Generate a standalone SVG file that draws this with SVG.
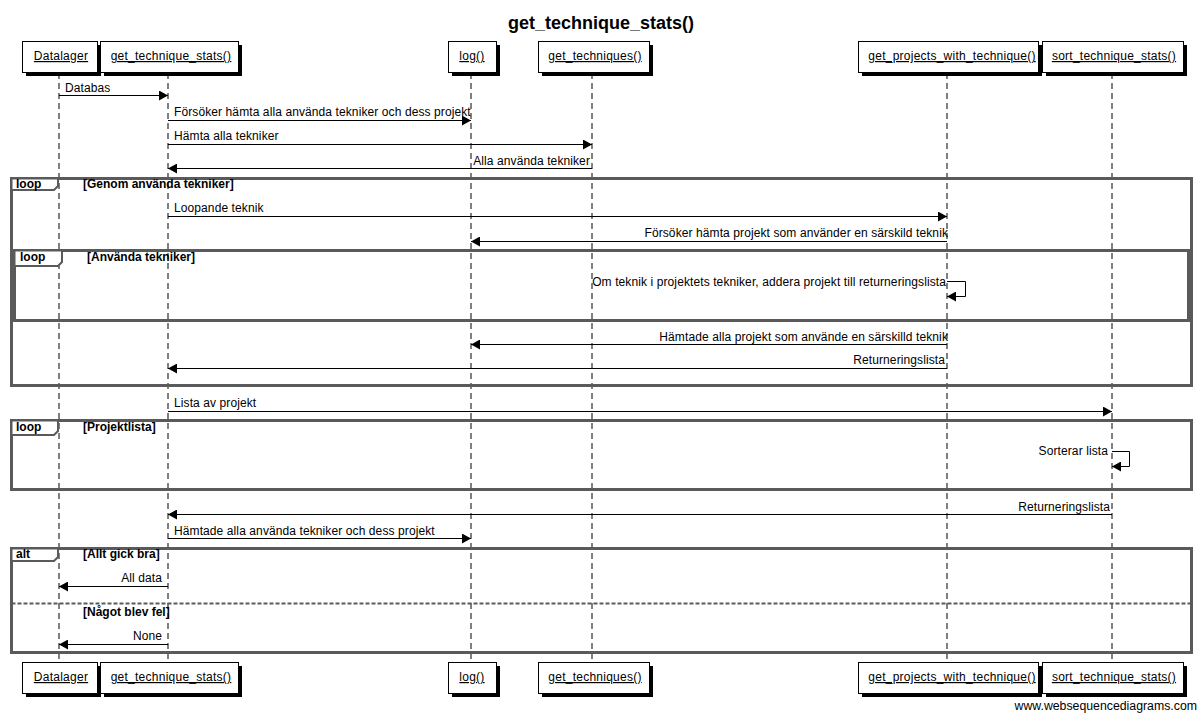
<svg xmlns="http://www.w3.org/2000/svg" width="1201" height="713" viewBox="0 0 1201 713">
  <style>
    text { font-family: "Liberation Sans", Arial, sans-serif; fill: #000; }
    .title { font-size: 18px; font-weight: bold; }
    .pname { font-size: 12px; letter-spacing: 0.25px; text-decoration: underline; }
    .msg { font-size: 12px; letter-spacing: 0.1px; }
    .flab { font-size: 12px; font-weight: bold; }
    .foot { font-size: 12.3px; }
    .box { fill: #fff; stroke: #000; stroke-width: 1; }
    .shadow { fill: #000; }
    .life { stroke: #000; stroke-width: 1; stroke-dasharray: 6 4; fill: none; }
    .arrow { stroke: #000; stroke-width: 1; fill: none; marker-end: url(#head); }
    .frame { fill: none; stroke: #5a5a5a; stroke-width: 3; }
    .tab { fill: #fff; stroke: #5a5a5a; stroke-width: 2; }
    .divider { stroke: #5a5a5a; stroke-width: 2; stroke-dasharray: 4 2; }
  </style>
  <defs>
    <marker id="head" markerWidth="9" markerHeight="10" refX="9" refY="5" orient="auto" markerUnits="userSpaceOnUse">
      <path d="M0,0 L9,5 L0,10 Z" fill="#000"/>
    </marker>
  </defs>

  <rect width="1201" height="713" fill="#fff"/>
  <text class="title" x="601" y="29" text-anchor="middle">get_technique_stats()</text>

  <!-- lifelines -->
  <g id="lifelines">
    <line class="life" x1="59" y1="73" x2="59" y2="662"/>
    <line class="life" x1="168" y1="73" x2="168" y2="662"/>
    <line class="life" x1="471" y1="73" x2="471" y2="662"/>
    <line class="life" x1="592" y1="73" x2="592" y2="662"/>
    <line class="life" x1="947" y1="73" x2="947" y2="662"/>
    <line class="life" x1="1112" y1="73" x2="1112" y2="662"/>
  </g>

  <!-- combined fragments -->
  <g id="frames">
    <rect class="frame" x="11.5" y="178.5" width="1180" height="207"/>
    <path class="tab" d="M11.5,178.5 H58 V186 L54,190 H11.5 Z"/>
    <text class="flab" x="16" y="188">loop</text>
    <text class="flab" x="83" y="188">[Genom använda tekniker]</text>

    <rect class="frame" x="14.5" y="250.5" width="1174" height="70"/>
    <path class="tab" d="M14.5,250.5 H62 V262 L58,266 H14.5 Z"/>
    <text class="flab" x="20" y="261">loop</text>
    <text class="flab" x="87" y="261">[Använda tekniker]</text>

    <rect class="frame" x="11.5" y="420.5" width="1180" height="69"/>
    <path class="tab" d="M11.5,420.5 H58 V431 L54,435 H11.5 Z"/>
    <text class="flab" x="16" y="431">loop</text>
    <text class="flab" x="83" y="431">[Projektlista]</text>

    <rect class="frame" x="11.5" y="548.5" width="1180" height="104"/>
    <path class="tab" d="M11.5,548.5 H58 V557 L54,561 H11.5 Z"/>
    <text class="flab" x="16" y="558">alt</text>
    <text class="flab" x="83" y="558">[Allt gick bra]</text>
    <line class="divider" x1="11.5" y1="603.5" x2="1191.5" y2="603.5"/>
    <text class="flab" x="83" y="616">[Något blev fel]</text>
  </g>

  <!-- messages -->
  <g id="connectors">
    <line class="arrow" x1="59" y1="95.5" x2="168" y2="95.5"/>
    <text class="msg" x="65" y="92">Databas</text>

    <line class="arrow" x1="168" y1="120.5" x2="471" y2="120.5"/>
    <text class="msg" x="174" y="116">Försöker hämta alla använda tekniker och dess projekt</text>

    <line class="arrow" x1="168" y1="144.5" x2="592" y2="144.5"/>
    <text class="msg" x="174" y="140">Hämta alla tekniker</text>

    <line class="arrow" x1="592" y1="168.5" x2="168" y2="168.5"/>
    <text class="msg" x="590" y="165" text-anchor="end">Alla använda tekniker</text>

    <line class="arrow" x1="168" y1="216.5" x2="947" y2="216.5"/>
    <text class="msg" x="174" y="212">Loopande teknik</text>

    <line class="arrow" x1="947" y1="241.5" x2="471" y2="241.5"/>
    <text class="msg" x="948" y="237" text-anchor="end">Försöker hämta projekt som använder en särskild teknik</text>

    <path class="arrow" d="M947,281.5 H965.5 V296.5 H947"/>
    <text class="msg" x="946" y="286" text-anchor="end">Om teknik i projektets tekniker, addera projekt till returneringslista</text>

    <line class="arrow" x1="947" y1="344.5" x2="471" y2="344.5"/>
    <text class="msg" x="948" y="341" text-anchor="end">Hämtade alla projekt som använde en särskilld teknik</text>

    <line class="arrow" x1="947" y1="368.5" x2="168" y2="368.5"/>
    <text class="msg" x="945" y="364" text-anchor="end">Returneringslista</text>

    <line class="arrow" x1="168" y1="411.5" x2="1112" y2="411.5"/>
    <text class="msg" x="174" y="407">Lista av projekt</text>

    <path class="arrow" d="M1112,451.5 H1129.5 V466.5 H1112"/>
    <text class="msg" x="1108" y="455" text-anchor="end">Sorterar lista</text>

    <line class="arrow" x1="1112" y1="514.5" x2="168" y2="514.5"/>
    <text class="msg" x="1110" y="511" text-anchor="end">Returneringslista</text>

    <line class="arrow" x1="168" y1="538.5" x2="471" y2="538.5"/>
    <text class="msg" x="174" y="535">Hämtade alla använda tekniker och dess projekt</text>

    <line class="arrow" x1="168" y1="586.5" x2="59" y2="586.5"/>
    <text class="msg" x="162" y="582" text-anchor="end">All data</text>

    <line class="arrow" x1="168" y1="644.5" x2="59" y2="644.5"/>
    <text class="msg" x="162" y="640" text-anchor="end">None</text>
  </g>

  <!-- participants, top -->
  <g id="p-datalager-top">
    <rect class="shadow" x="26" y="45" width="75" height="31"/>
    <rect class="box" x="22.5" y="41.5" width="75" height="31"/>
    <text class="pname" x="61" y="60" text-anchor="middle">Datalager</text>
  </g>
  <g id="p-stats-top">
    <rect class="shadow" x="104" y="45" width="138" height="31"/>
    <rect class="box" x="100.5" y="41.5" width="138" height="31"/>
    <text class="pname" x="171" y="60" text-anchor="middle">get_technique_stats()</text>
  </g>
  <g id="p-log-top">
    <rect class="shadow" x="452" y="45" width="48" height="31"/>
    <rect class="box" x="448.5" y="41.5" width="48" height="31"/>
    <text class="pname" x="472" y="60" text-anchor="middle">log()</text>
  </g>
  <g id="p-techniques-top">
    <rect class="shadow" x="542" y="45" width="111" height="31"/>
    <rect class="box" x="538.5" y="41.5" width="111" height="31"/>
    <text class="pname" x="595" y="60" text-anchor="middle">get_techniques()</text>
  </g>
  <g id="p-projects-top">
    <rect class="shadow" x="862" y="45" width="180" height="31"/>
    <rect class="box" x="858.5" y="41.5" width="180" height="31"/>
    <text class="pname" x="952" y="60" text-anchor="middle">get_projects_with_technique()</text>
  </g>
  <g id="p-sort-top">
    <rect class="shadow" x="1046" y="45" width="141" height="31"/>
    <rect class="box" x="1042.5" y="41.5" width="141" height="31"/>
    <text class="pname" x="1114" y="60" text-anchor="middle">sort_technique_stats()</text>
  </g>

  <!-- participants, bottom -->
  <g id="p-datalager-bottom">
    <rect class="shadow" x="26" y="666" width="75" height="31"/>
    <rect class="box" x="22.5" y="662.5" width="75" height="31"/>
    <text class="pname" x="61" y="681" text-anchor="middle">Datalager</text>
  </g>
  <g id="p-stats-bottom">
    <rect class="shadow" x="104" y="666" width="138" height="31"/>
    <rect class="box" x="100.5" y="662.5" width="138" height="31"/>
    <text class="pname" x="171" y="681" text-anchor="middle">get_technique_stats()</text>
  </g>
  <g id="p-log-bottom">
    <rect class="shadow" x="452" y="666" width="48" height="31"/>
    <rect class="box" x="448.5" y="662.5" width="48" height="31"/>
    <text class="pname" x="472" y="681" text-anchor="middle">log()</text>
  </g>
  <g id="p-techniques-bottom">
    <rect class="shadow" x="542" y="666" width="111" height="31"/>
    <rect class="box" x="538.5" y="662.5" width="111" height="31"/>
    <text class="pname" x="595" y="681" text-anchor="middle">get_techniques()</text>
  </g>
  <g id="p-projects-bottom">
    <rect class="shadow" x="862" y="666" width="180" height="31"/>
    <rect class="box" x="858.5" y="662.5" width="180" height="31"/>
    <text class="pname" x="952" y="681" text-anchor="middle">get_projects_with_technique()</text>
  </g>
  <g id="p-sort-bottom">
    <rect class="shadow" x="1046" y="666" width="141" height="31"/>
    <rect class="box" x="1042.5" y="662.5" width="141" height="31"/>
    <text class="pname" x="1114" y="681" text-anchor="middle">sort_technique_stats()</text>
  </g>

  <text class="foot" x="1197" y="710" text-anchor="end">www.websequencediagrams.com</text>
</svg>
